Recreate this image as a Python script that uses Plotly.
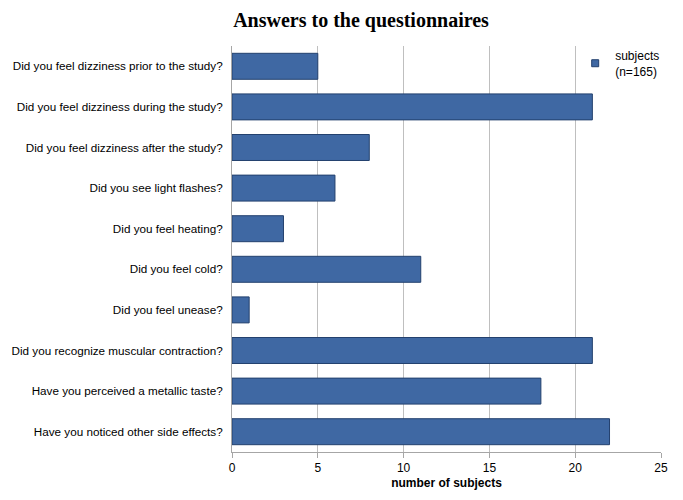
import plotly.graph_objects as go

questions = [
    "Did you feel dizziness prior to the study?",
    "Did you feel dizziness during the study?",
    "Did you feel dizziness after the study?",
    "Did you see light flashes?",
    "Did you feel heating?",
    "Did you feel cold?",
    "Did you feel unease?",
    "Did you recognize muscular contraction?",
    "Have you perceived a metallic taste?",
    "Have you noticed other side effects?",
]
subjects = [5, 21, 8, 6, 3, 11, 1, 21, 18, 22]
x_ticks = [0, 5, 10, 15, 20, 25]
bar_color = "#3F68A3"

fig = go.Figure()
fig.add_trace(go.Bar(
    y=questions,
    x=subjects,
    orientation="h",
    name="subjects",
    showlegend=False,
    width=0.64,
    marker=dict(color=bar_color, line=dict(color="#23416E", width=1)),
))
# legend entry with small square marker
fig.add_trace(go.Scatter(
    x=[None], y=[None],
    mode="markers",
    name="subjects<br>(n=165)",
    marker=dict(symbol="square", size=7, color=bar_color, line=dict(color="#23416E", width=1)),
    showlegend=True,
))

# page body has an 8px offset; figure sized/margined to compensate
fig.update_layout(
    width=675,
    height=492,
    margin=dict(l=224, r=22, t=38, b=48),
    paper_bgcolor="white",
    plot_bgcolor="white",
    title=dict(
        text="<b>Answers to the questionnaires</b>",
        font=dict(family="Liberation Serif, Times New Roman, serif", size=20, color="black"),
        x=0.523, xanchor="center", y=0.99, yanchor="top",
    ),
    font=dict(family="Liberation Sans, Arial, sans-serif", size=11.7, color="black"),
    showlegend=True,
    legend=dict(
        x=0.80, y=1.012, xanchor="left", yanchor="top",
        bgcolor="rgba(0,0,0,0)", font=dict(size=12),
        itemwidth=30, tracegroupgap=0,
    ),
    xaxis=dict(
        range=[0, 25],
        tickvals=x_ticks,
        showgrid=True,
        gridcolor="#BFBFBF",
        gridwidth=1,
        zeroline=False,
        showline=True,
        linecolor="#A6A6A6",
        ticks="outside",
        tickcolor="#A6A6A6",
        ticklen=5,
        tickfont=dict(size=12),
        automargin=False,
        title=dict(text="<b>number of subjects</b>", font=dict(size=12), standoff=4),
    ),
    yaxis=dict(
        autorange="reversed",
        showline=True,
        linecolor="#A6A6A6",
        ticks="",
        ticklabelstandoff=6,
        automargin=False,
        showgrid=False,
    ),
)

fig.write_html("out.html")
